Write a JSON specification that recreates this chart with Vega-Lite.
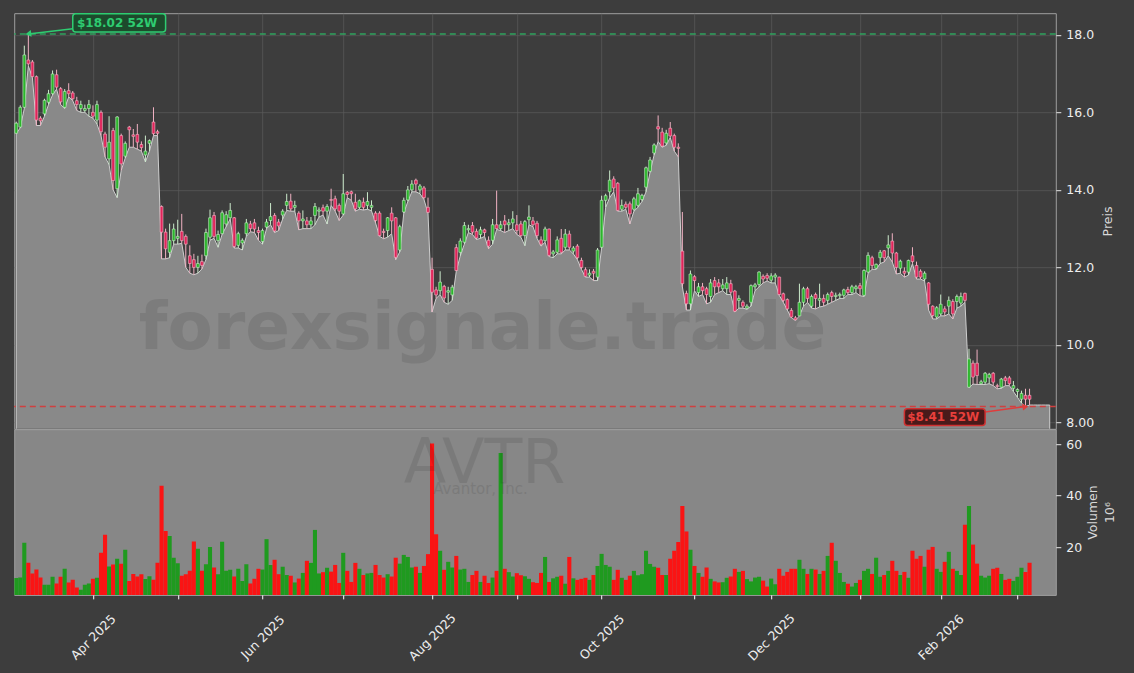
{
"$schema": "https://vega.github.io/schema/vega-lite/v6.json",
"background": "#3d3d3d",
"padding": {"left": 12.2, "top": 12.2, "right": 22, "bottom": 14},
"bounds": "flush",
"spacing": 0,
"config": {
  "font": "DejaVu Sans",
  "mark": {"invalid": "break-paths-show-domains"},
  "view": {"stroke": "#a0a0a0", "strokeWidth": 1},
  "axis": {"labelFont": "DejaVu Sans", "titleFont": "DejaVu Sans", "labelColor": "#eeeeee", "titleColor": "#d8d8d8", "tickColor": "#e8e8e8", "labelFontSize": 12.5, "titleFontSize": 12.5, "titleFontWeight": "normal", "domain": false, "gridColor": "#595959", "gridWidth": 0.8}
},
"data": {"values": [
{"date":"2025-03-05","open":15.46,"high":15.76,"low":15.45,"close":15.72,"volume":8.0},
{"date":"2025-03-06","open":15.62,"high":16.18,"low":15.6,"close":16.13,"volume":8.2},
{"date":"2025-03-07","open":16.13,"high":17.72,"low":16.1,"close":17.48,"volume":21.7},
{"date":"2025-03-10","open":17.35,"high":18.02,"low":17.2,"close":17.25,"volume":13.9},
{"date":"2025-03-11","open":17.3,"high":17.35,"low":16.9,"close":16.92,"volume":9.8},
{"date":"2025-03-12","open":16.92,"high":16.95,"low":15.66,"close":15.8,"volume":11.3},
{"date":"2025-03-13","open":15.85,"high":15.9,"low":15.66,"close":15.78,"volume":8.2},
{"date":"2025-03-14","open":15.96,"high":16.35,"low":15.9,"close":16.31,"volume":5.4},
{"date":"2025-03-17","open":16.26,"high":16.58,"low":16.2,"close":16.48,"volume":5.4},
{"date":"2025-03-18","open":16.48,"high":17.08,"low":16.45,"close":16.99,"volume":8.5},
{"date":"2025-03-19","open":16.97,"high":17.1,"low":16.6,"close":16.65,"volume":5.9},
{"date":"2025-03-20","open":16.61,"high":16.65,"low":16.2,"close":16.27,"volume":8.5},
{"date":"2025-03-21","open":16.13,"high":16.6,"low":16.1,"close":16.54,"volume":11.6},
{"date":"2025-03-24","open":16.56,"high":16.75,"low":16.4,"close":16.48,"volume":6.3},
{"date":"2025-03-25","open":16.5,"high":16.55,"low":16.3,"close":16.35,"volume":7.3},
{"date":"2025-03-26","open":16.3,"high":16.4,"low":16.05,"close":16.2,"volume":4.3},
{"date":"2025-03-27","open":16.1,"high":16.3,"low":16.0,"close":16.2,"volume":3.5},
{"date":"2025-03-28","open":16.05,"high":16.2,"low":16.0,"close":16.1,"volume":5.4},
{"date":"2025-03-31","open":16.1,"high":16.32,"low":15.9,"close":16.2,"volume":5.9},
{"date":"2025-04-01","open":16.0,"high":16.18,"low":15.85,"close":15.9,"volume":7.7},
{"date":"2025-04-02","open":15.8,"high":16.3,"low":15.7,"close":16.2,"volume":8.1},
{"date":"2025-04-03","open":16.0,"high":16.05,"low":15.4,"close":15.5,"volume":17.8},
{"date":"2025-04-04","open":15.44,"high":15.5,"low":14.85,"close":15.1,"volume":24.8},
{"date":"2025-04-07","open":14.8,"high":15.9,"low":14.65,"close":15.23,"volume":12.5},
{"date":"2025-04-08","open":15.53,"high":15.6,"low":14.0,"close":14.24,"volume":13.3},
{"date":"2025-04-09","open":14.03,"high":15.9,"low":13.8,"close":15.88,"volume":15.5},
{"date":"2025-04-10","open":15.4,"high":15.45,"low":14.5,"close":14.67,"volume":13.6},
{"date":"2025-04-11","open":14.87,"high":15.25,"low":14.82,"close":15.2,"volume":19.0},
{"date":"2025-04-14","open":15.62,"high":15.65,"low":15.1,"close":15.55,"volume":6.9},
{"date":"2025-04-15","open":15.42,"high":15.57,"low":15.1,"close":15.38,"volume":9.6},
{"date":"2025-04-16","open":15.43,"high":15.7,"low":15.05,"close":15.23,"volume":8.6},
{"date":"2025-04-17","open":15.17,"high":15.25,"low":15.0,"close":15.09,"volume":9.5},
{"date":"2025-04-21","open":14.9,"high":15.4,"low":14.72,"close":15.0,"volume":7.6},
{"date":"2025-04-22","open":15.2,"high":15.3,"low":15.0,"close":15.27,"volume":8.7},
{"date":"2025-04-23","open":15.75,"high":16.13,"low":15.4,"close":15.45,"volume":7.3},
{"date":"2025-04-24","open":15.5,"high":15.55,"low":15.4,"close":15.46,"volume":13.9},
{"date":"2025-04-25","open":13.57,"high":13.6,"low":12.22,"close":12.91,"volume":43.8},
{"date":"2025-04-28","open":12.91,"high":13.0,"low":12.22,"close":12.48,"volume":26.3},
{"date":"2025-04-29","open":12.39,"high":13.13,"low":12.25,"close":12.69,"volume":24.3},
{"date":"2025-04-30","open":12.69,"high":13.13,"low":12.6,"close":12.99,"volume":15.9},
{"date":"2025-05-01","open":12.75,"high":13.23,"low":12.6,"close":12.8,"volume":13.8},
{"date":"2025-05-02","open":12.93,"high":13.38,"low":12.62,"close":12.69,"volume":8.9},
{"date":"2025-05-05","open":12.8,"high":12.85,"low":12.0,"close":12.6,"volume":9.5},
{"date":"2025-05-06","open":12.3,"high":12.57,"low":11.85,"close":12.1,"volume":10.8},
{"date":"2025-05-07","open":12.2,"high":12.35,"low":11.81,"close":12.0,"volume":22.2},
{"date":"2025-05-08","open":12.0,"high":12.3,"low":11.85,"close":12.1,"volume":19.4},
{"date":"2025-05-09","open":12.15,"high":12.33,"low":11.96,"close":12.05,"volume":10.8},
{"date":"2025-05-12","open":12.3,"high":13.0,"low":12.2,"close":12.9,"volume":13.4},
{"date":"2025-05-13","open":12.78,"high":13.49,"low":12.7,"close":13.28,"volume":20.1},
{"date":"2025-05-14","open":13.34,"high":13.43,"low":12.75,"close":12.8,"volume":12.1},
{"date":"2025-05-15","open":12.69,"high":12.95,"low":12.52,"close":12.85,"volume":9.5},
{"date":"2025-05-16","open":12.87,"high":13.47,"low":12.85,"close":13.41,"volume":22.1},
{"date":"2025-05-19","open":13.12,"high":13.45,"low":13.05,"close":13.36,"volume":10.8},
{"date":"2025-05-20","open":13.28,"high":13.66,"low":13.25,"close":13.47,"volume":11.2},
{"date":"2025-05-21","open":13.28,"high":13.3,"low":12.5,"close":12.54,"volume":8.6},
{"date":"2025-05-22","open":12.57,"high":12.92,"low":12.5,"close":12.87,"volume":11.6},
{"date":"2025-05-23","open":12.63,"high":12.75,"low":12.45,"close":12.7,"volume":6.9},
{"date":"2025-05-27","open":12.87,"high":13.25,"low":12.8,"close":13.15,"volume":13.4},
{"date":"2025-05-28","open":13.12,"high":13.2,"low":12.92,"close":13.0,"volume":5.9},
{"date":"2025-05-29","open":13.15,"high":13.25,"low":12.9,"close":12.99,"volume":7.7},
{"date":"2025-05-30","open":12.95,"high":13.05,"low":12.7,"close":12.9,"volume":11.6},
{"date":"2025-06-02","open":12.67,"high":13.0,"low":12.6,"close":12.95,"volume":11.3},
{"date":"2025-06-03","open":13.04,"high":13.25,"low":13.0,"close":13.17,"volume":23.1},
{"date":"2025-06-04","open":13.21,"high":13.66,"low":13.1,"close":13.31,"volume":13.1},
{"date":"2025-06-05","open":13.34,"high":13.4,"low":12.9,"close":12.94,"volume":15.1},
{"date":"2025-06-06","open":13.17,"high":13.25,"low":12.95,"close":13.07,"volume":9.5},
{"date":"2025-06-09","open":13.35,"high":13.5,"low":13.25,"close":13.45,"volume":12.4},
{"date":"2025-06-10","open":13.6,"high":13.9,"low":13.47,"close":13.7,"volume":9.2},
{"date":"2025-06-11","open":13.71,"high":13.9,"low":13.45,"close":13.51,"volume":8.9},
{"date":"2025-06-12","open":13.55,"high":13.72,"low":13.45,"close":13.6,"volume":6.3},
{"date":"2025-06-13","open":13.4,"high":13.45,"low":12.97,"close":13.2,"volume":7.8},
{"date":"2025-06-16","open":13.2,"high":13.47,"low":13.0,"close":13.25,"volume":10.0},
{"date":"2025-06-17","open":13.2,"high":13.3,"low":13.0,"close":13.1,"volume":14.7},
{"date":"2025-06-18","open":13.1,"high":13.3,"low":13.0,"close":13.2,"volume":13.9},
{"date":"2025-06-20","open":13.34,"high":13.66,"low":13.1,"close":13.57,"volume":26.7},
{"date":"2025-06-23","open":13.45,"high":13.55,"low":13.3,"close":13.48,"volume":9.8},
{"date":"2025-06-24","open":13.54,"high":13.62,"low":13.35,"close":13.45,"volume":10.3},
{"date":"2025-06-25","open":13.45,"high":13.63,"low":13.12,"close":13.57,"volume":12.0},
{"date":"2025-06-26","open":13.75,"high":14.03,"low":13.6,"close":13.73,"volume":10.5},
{"date":"2025-06-27","open":13.77,"high":13.85,"low":13.45,"close":13.51,"volume":13.1},
{"date":"2025-06-30","open":13.6,"high":13.65,"low":13.21,"close":13.45,"volume":6.1},
{"date":"2025-07-01","open":13.38,"high":14.41,"low":13.35,"close":13.9,"volume":17.8},
{"date":"2025-07-02","open":13.94,"high":13.97,"low":13.8,"close":13.88,"volume":10.8},
{"date":"2025-07-03","open":13.95,"high":13.98,"low":13.73,"close":13.9,"volume":6.5},
{"date":"2025-07-07","open":13.68,"high":13.9,"low":13.45,"close":13.51,"volume":13.9},
{"date":"2025-07-08","open":13.55,"high":13.75,"low":13.5,"close":13.72,"volume":11.6},
{"date":"2025-07-09","open":13.68,"high":13.8,"low":13.48,"close":13.55,"volume":9.2},
{"date":"2025-07-10","open":13.6,"high":13.94,"low":13.5,"close":13.7,"volume":9.8},
{"date":"2025-07-11","open":13.55,"high":13.73,"low":13.46,"close":13.6,"volume":10.0},
{"date":"2025-07-14","open":13.4,"high":13.45,"low":13.15,"close":13.21,"volume":13.1},
{"date":"2025-07-15","open":13.4,"high":13.45,"low":12.8,"close":12.82,"volume":9.2},
{"date":"2025-07-16","open":12.93,"high":13.0,"low":12.74,"close":12.9,"volume":8.2},
{"date":"2025-07-17","open":12.95,"high":13.3,"low":12.78,"close":13.28,"volume":9.5},
{"date":"2025-07-18","open":13.4,"high":13.55,"low":12.87,"close":13.2,"volume":8.6},
{"date":"2025-07-21","open":13.28,"high":13.3,"low":12.2,"close":12.26,"volume":15.9},
{"date":"2025-07-22","open":12.45,"high":13.1,"low":12.4,"close":13.05,"volume":13.6},
{"date":"2025-07-23","open":13.43,"high":13.8,"low":13.4,"close":13.73,"volume":17.0},
{"date":"2025-07-24","open":13.74,"high":14.1,"low":13.7,"close":14.0,"volume":16.2},
{"date":"2025-07-25","open":14.0,"high":14.25,"low":13.95,"close":14.15,"volume":12.1},
{"date":"2025-07-28","open":14.25,"high":14.29,"low":13.95,"close":14.15,"volume":12.4},
{"date":"2025-07-29","open":14.0,"high":14.15,"low":13.9,"close":14.1,"volume":10.0},
{"date":"2025-07-30","open":14.05,"high":14.1,"low":13.75,"close":13.8,"volume":12.7},
{"date":"2025-07-31","open":13.55,"high":13.8,"low":13.4,"close":13.42,"volume":17.3},
{"date":"2025-08-01","open":11.95,"high":12.25,"low":10.85,"close":11.36,"volume":60.2},
{"date":"2025-08-04","open":11.42,"high":11.5,"low":11.2,"close":11.29,"volume":25.0},
{"date":"2025-08-05","open":11.4,"high":11.9,"low":11.3,"close":11.62,"volume":18.6},
{"date":"2025-08-06","open":11.51,"high":11.55,"low":11.1,"close":11.21,"volume":11.2},
{"date":"2025-08-07","open":11.36,"high":11.5,"low":11.05,"close":11.4,"volume":14.3},
{"date":"2025-08-08","open":11.29,"high":11.55,"low":11.15,"close":11.49,"volume":12.1},
{"date":"2025-08-11","open":12.51,"high":12.6,"low":11.9,"close":11.92,"volume":16.6},
{"date":"2025-08-12","open":12.39,"high":12.75,"low":12.3,"close":12.68,"volume":11.3},
{"date":"2025-08-13","open":12.65,"high":13.17,"low":12.6,"close":13.08,"volume":11.6},
{"date":"2025-08-14","open":12.97,"high":13.1,"low":12.9,"close":13.0,"volume":6.5},
{"date":"2025-08-15","open":13.08,"high":13.17,"low":12.85,"close":12.91,"volume":9.2},
{"date":"2025-08-18","open":12.93,"high":13.0,"low":12.72,"close":12.76,"volume":10.8},
{"date":"2025-08-19","open":12.85,"high":13.05,"low":12.75,"close":12.97,"volume":6.5},
{"date":"2025-08-20","open":12.97,"high":13.0,"low":12.8,"close":12.9,"volume":8.9},
{"date":"2025-08-21","open":12.7,"high":12.8,"low":12.48,"close":12.55,"volume":6.1},
{"date":"2025-08-22","open":12.7,"high":13.25,"low":12.6,"close":13.1,"volume":8.2},
{"date":"2025-08-25","open":13.1,"high":13.98,"low":12.98,"close":13.0,"volume":10.8},
{"date":"2025-08-26","open":13.0,"high":13.2,"low":12.95,"close":13.1,"volume":56.6},
{"date":"2025-08-27","open":13.2,"high":13.35,"low":12.9,"close":13.1,"volume":11.6},
{"date":"2025-08-28","open":13.1,"high":13.25,"low":12.95,"close":13.15,"volume":10.3},
{"date":"2025-08-29","open":13.15,"high":13.45,"low":13.0,"close":13.25,"volume":8.6},
{"date":"2025-09-02","open":13.1,"high":13.35,"low":12.85,"close":12.95,"volume":9.9},
{"date":"2025-09-03","open":13.12,"high":13.2,"low":12.78,"close":12.82,"volume":9.1},
{"date":"2025-09-04","open":12.82,"high":13.22,"low":12.56,"close":13.18,"volume":8.7},
{"date":"2025-09-05","open":13.23,"high":13.6,"low":13.1,"close":13.3,"volume":7.7},
{"date":"2025-09-08","open":13.2,"high":13.3,"low":13.05,"close":13.1,"volume":6.4},
{"date":"2025-09-09","open":13.14,"high":13.2,"low":12.75,"close":12.82,"volume":6.1},
{"date":"2025-09-10","open":12.71,"high":12.8,"low":12.55,"close":12.6,"volume":10.0},
{"date":"2025-09-11","open":12.69,"high":13.05,"low":12.65,"close":12.99,"volume":16.2},
{"date":"2025-09-12","open":12.99,"high":13.0,"low":12.28,"close":12.31,"volume":6.5},
{"date":"2025-09-15","open":12.35,"high":12.45,"low":12.25,"close":12.4,"volume":7.9},
{"date":"2025-09-16","open":12.39,"high":12.8,"low":12.35,"close":12.71,"volume":8.5},
{"date":"2025-09-17","open":12.75,"high":12.99,"low":12.35,"close":12.39,"volume":8.9},
{"date":"2025-09-18","open":12.52,"high":12.99,"low":12.45,"close":12.86,"volume":5.8},
{"date":"2025-09-19","open":12.86,"high":12.95,"low":12.45,"close":12.52,"volume":16.2},
{"date":"2025-09-22","open":12.42,"high":12.55,"low":12.35,"close":12.5,"volume":7.9},
{"date":"2025-09-23","open":12.55,"high":12.6,"low":12.2,"close":12.25,"volume":7.3},
{"date":"2025-09-24","open":12.18,"high":12.25,"low":11.95,"close":12.0,"volume":7.7},
{"date":"2025-09-25","open":11.94,"high":12.0,"low":11.75,"close":11.77,"volume":8.1},
{"date":"2025-09-26","open":11.8,"high":11.95,"low":11.75,"close":11.85,"volume":7.3},
{"date":"2025-09-29","open":11.9,"high":11.96,"low":11.66,"close":11.85,"volume":9.2},
{"date":"2025-09-30","open":11.75,"high":12.5,"low":11.66,"close":12.45,"volume":12.7},
{"date":"2025-10-01","open":12.52,"high":13.85,"low":12.5,"close":13.73,"volume":17.4},
{"date":"2025-10-02","open":13.73,"high":13.9,"low":13.55,"close":13.85,"volume":13.1},
{"date":"2025-10-03","open":13.95,"high":14.5,"low":13.8,"close":14.25,"volume":12.4},
{"date":"2025-10-06","open":14.28,"high":14.35,"low":13.95,"close":14.05,"volume":7.3},
{"date":"2025-10-07","open":14.17,"high":14.2,"low":13.45,"close":13.47,"volume":11.2},
{"date":"2025-10-08","open":13.5,"high":13.75,"low":13.45,"close":13.6,"volume":8.1},
{"date":"2025-10-09","open":13.63,"high":13.7,"low":13.5,"close":13.55,"volume":7.3},
{"date":"2025-10-10","open":13.64,"high":13.7,"low":13.12,"close":13.38,"volume":8.9},
{"date":"2025-10-13","open":13.5,"high":13.82,"low":13.45,"close":13.77,"volume":10.8},
{"date":"2025-10-14","open":13.6,"high":14.05,"low":13.55,"close":13.9,"volume":9.1},
{"date":"2025-10-15","open":13.75,"high":13.9,"low":13.7,"close":13.86,"volume":9.5},
{"date":"2025-10-16","open":14.07,"high":14.6,"low":13.95,"close":14.57,"volume":18.6},
{"date":"2025-10-17","open":14.48,"high":14.85,"low":14.45,"close":14.77,"volume":13.5},
{"date":"2025-10-20","open":14.95,"high":15.2,"low":14.9,"close":15.16,"volume":12.4},
{"date":"2025-10-21","open":15.63,"high":15.92,"low":15.25,"close":15.57,"volume":12.0},
{"date":"2025-10-22","open":15.49,"high":15.6,"low":15.1,"close":15.13,"volume":9.2},
{"date":"2025-10-23","open":15.21,"high":15.55,"low":15.15,"close":15.46,"volume":9.2},
{"date":"2025-10-24","open":15.59,"high":15.75,"low":15.35,"close":15.39,"volume":15.5},
{"date":"2025-10-27","open":15.4,"high":15.45,"low":15.0,"close":15.1,"volume":18.6},
{"date":"2025-10-28","open":15.1,"high":15.2,"low":14.85,"close":15.07,"volume":22.0},
{"date":"2025-10-29","open":12.42,"high":13.43,"low":11.5,"close":11.58,"volume":36.0},
{"date":"2025-10-30","open":11.33,"high":11.4,"low":10.9,"close":11.06,"volume":26.1},
{"date":"2025-10-31","open":11.06,"high":11.92,"low":10.9,"close":11.83,"volume":19.0},
{"date":"2025-11-03","open":11.76,"high":11.8,"low":11.4,"close":11.66,"volume":12.7},
{"date":"2025-11-04","open":11.35,"high":11.6,"low":11.25,"close":11.5,"volume":10.0},
{"date":"2025-11-05","open":11.5,"high":11.6,"low":11.3,"close":11.4,"volume":8.5},
{"date":"2025-11-06","open":11.45,"high":11.5,"low":11.06,"close":11.3,"volume":12.1},
{"date":"2025-11-07","open":11.25,"high":11.7,"low":11.1,"close":11.6,"volume":7.7},
{"date":"2025-11-10","open":11.66,"high":11.75,"low":11.3,"close":11.5,"volume":6.7},
{"date":"2025-11-11","open":11.6,"high":11.7,"low":11.35,"close":11.5,"volume":6.3},
{"date":"2025-11-12","open":11.45,"high":11.7,"low":11.4,"close":11.55,"volume":6.4},
{"date":"2025-11-13","open":11.45,"high":11.75,"low":11.3,"close":11.6,"volume":8.1},
{"date":"2025-11-14","open":11.58,"high":11.68,"low":11.3,"close":11.36,"volume":8.6},
{"date":"2025-11-17","open":11.39,"high":11.42,"low":10.85,"close":10.87,"volume":11.6},
{"date":"2025-11-18","open":11.15,"high":11.28,"low":10.95,"close":11.2,"volume":10.4},
{"date":"2025-11-19","open":11.1,"high":11.15,"low":10.95,"close":11.0,"volume":10.8},
{"date":"2025-11-20","open":10.95,"high":11.05,"low":10.92,"close":11.0,"volume":7.6},
{"date":"2025-11-21","open":11.1,"high":11.56,"low":11.0,"close":11.53,"volume":6.7},
{"date":"2025-11-24","open":11.5,"high":11.6,"low":11.4,"close":11.55,"volume":8.2},
{"date":"2025-11-25","open":11.56,"high":11.9,"low":11.5,"close":11.88,"volume":8.5},
{"date":"2025-11-26","open":11.77,"high":11.82,"low":11.6,"close":11.7,"volume":7.0},
{"date":"2025-11-28","open":11.79,"high":11.85,"low":11.65,"close":11.72,"volume":4.7},
{"date":"2025-12-01","open":11.67,"high":11.85,"low":11.6,"close":11.78,"volume":7.8},
{"date":"2025-12-02","open":11.75,"high":11.85,"low":11.6,"close":11.8,"volume":5.6},
{"date":"2025-12-03","open":11.75,"high":11.76,"low":11.28,"close":11.3,"volume":11.6},
{"date":"2025-12-04","open":11.32,"high":11.35,"low":11.1,"close":11.15,"volume":8.9},
{"date":"2025-12-05","open":11.17,"high":11.2,"low":10.9,"close":10.93,"volume":10.4},
{"date":"2025-12-08","open":10.89,"high":10.95,"low":10.7,"close":10.72,"volume":11.6},
{"date":"2025-12-09","open":10.7,"high":10.75,"low":10.63,"close":10.65,"volume":11.6},
{"date":"2025-12-10","open":10.75,"high":11.58,"low":10.75,"close":11.1,"volume":15.1},
{"date":"2025-12-11","open":11.1,"high":11.5,"low":11.0,"close":11.45,"volume":11.6},
{"date":"2025-12-12","open":11.45,"high":11.5,"low":11.1,"close":11.2,"volume":9.6},
{"date":"2025-12-15","open":11.0,"high":11.3,"low":10.95,"close":11.25,"volume":11.6},
{"date":"2025-12-16","open":11.3,"high":11.35,"low":10.93,"close":11.2,"volume":11.3},
{"date":"2025-12-17","open":11.15,"high":11.58,"low":10.98,"close":11.2,"volume":9.6},
{"date":"2025-12-18","open":11.2,"high":11.3,"low":11.0,"close":11.1,"volume":10.8},
{"date":"2025-12-19","open":11.15,"high":11.35,"low":11.05,"close":11.3,"volume":16.6},
{"date":"2025-12-22","open":11.35,"high":11.4,"low":11.1,"close":11.25,"volume":21.7},
{"date":"2025-12-23","open":11.25,"high":11.35,"low":11.15,"close":11.28,"volume":14.7},
{"date":"2025-12-24","open":11.27,"high":11.35,"low":11.2,"close":11.3,"volume":10.0},
{"date":"2025-12-26","open":11.28,"high":11.45,"low":11.2,"close":11.42,"volume":6.5},
{"date":"2025-12-29","open":11.43,"high":11.5,"low":11.3,"close":11.35,"volume":5.8},
{"date":"2025-12-30","open":11.35,"high":11.55,"low":11.3,"close":11.5,"volume":4.7},
{"date":"2025-12-31","open":11.45,"high":11.55,"low":11.35,"close":11.5,"volume":6.1},
{"date":"2026-01-02","open":11.53,"high":11.6,"low":11.27,"close":11.45,"volume":7.3},
{"date":"2026-01-05","open":11.28,"high":11.95,"low":11.25,"close":11.92,"volume":10.8},
{"date":"2026-01-06","open":11.88,"high":12.39,"low":11.85,"close":12.31,"volume":11.6},
{"date":"2026-01-07","open":12.25,"high":12.3,"low":11.95,"close":12.05,"volume":9.6},
{"date":"2026-01-08","open":11.98,"high":12.1,"low":11.95,"close":12.08,"volume":15.9},
{"date":"2026-01-09","open":12.25,"high":12.45,"low":12.1,"close":12.39,"volume":8.5},
{"date":"2026-01-12","open":12.43,"high":12.45,"low":12.14,"close":12.25,"volume":9.2},
{"date":"2026-01-13","open":12.5,"high":12.83,"low":12.3,"close":12.58,"volume":10.8},
{"date":"2026-01-14","open":12.68,"high":12.88,"low":12.14,"close":12.37,"volume":14.7},
{"date":"2026-01-15","open":12.37,"high":12.4,"low":11.83,"close":12.0,"volume":10.8},
{"date":"2026-01-16","open":11.98,"high":12.2,"low":11.85,"close":12.16,"volume":9.2},
{"date":"2026-01-20","open":11.9,"high":12.0,"low":11.75,"close":11.85,"volume":10.4},
{"date":"2026-01-21","open":11.88,"high":12.2,"low":11.8,"close":12.18,"volume":8.1},
{"date":"2026-01-22","open":12.3,"high":12.52,"low":12.1,"close":12.15,"volume":18.6},
{"date":"2026-01-23","open":12.05,"high":12.15,"low":11.7,"close":11.75,"volume":15.5},
{"date":"2026-01-26","open":11.9,"high":11.95,"low":11.7,"close":11.75,"volume":16.6},
{"date":"2026-01-27","open":11.7,"high":11.9,"low":11.65,"close":11.85,"volume":12.4},
{"date":"2026-01-28","open":11.6,"high":11.62,"low":10.9,"close":11.05,"volume":19.0},
{"date":"2026-01-29","open":11.0,"high":11.02,"low":10.67,"close":10.76,"volume":20.1},
{"date":"2026-01-30","open":10.72,"high":11.0,"low":10.67,"close":10.96,"volume":11.6},
{"date":"2026-02-02","open":10.8,"high":11.3,"low":10.75,"close":11.05,"volume":10.4},
{"date":"2026-02-03","open":10.93,"high":11.0,"low":10.75,"close":10.85,"volume":14.3},
{"date":"2026-02-04","open":11.0,"high":11.25,"low":10.8,"close":11.15,"volume":18.2},
{"date":"2026-02-05","open":11.12,"high":11.18,"low":10.67,"close":10.8,"volume":11.6},
{"date":"2026-02-06","open":11.12,"high":11.3,"low":10.95,"close":11.25,"volume":10.8},
{"date":"2026-02-09","open":11.08,"high":11.35,"low":11.0,"close":11.25,"volume":9.2},
{"date":"2026-02-10","open":11.33,"high":11.35,"low":11.1,"close":11.15,"volume":28.7},
{"date":"2026-02-11","open":8.91,"high":9.9,"low":8.9,"close":9.64,"volume":36.0},
{"date":"2026-02-12","open":9.53,"high":9.6,"low":8.99,"close":9.17,"volume":21.0},
{"date":"2026-02-13","open":9.53,"high":9.88,"low":8.98,"close":9.21,"volume":13.6},
{"date":"2026-02-17","open":9.0,"high":9.1,"low":8.98,"close":9.05,"volume":8.9},
{"date":"2026-02-18","open":9.04,"high":9.3,"low":8.98,"close":9.27,"volume":8.2},
{"date":"2026-02-19","open":9.15,"high":9.28,"low":9.0,"close":9.24,"volume":8.9},
{"date":"2026-02-20","open":9.27,"high":9.3,"low":8.95,"close":9.04,"volume":11.6},
{"date":"2026-02-23","open":8.95,"high":9.0,"low":8.87,"close":8.93,"volume":12.0},
{"date":"2026-02-24","open":8.91,"high":9.15,"low":8.88,"close":9.12,"volume":9.6},
{"date":"2026-02-25","open":9.15,"high":9.2,"low":8.95,"close":9.08,"volume":7.3},
{"date":"2026-02-26","open":9.15,"high":9.2,"low":8.95,"close":9.0,"volume":7.7},
{"date":"2026-02-27","open":8.88,"high":9.07,"low":8.8,"close":8.95,"volume":6.9},
{"date":"2026-03-02","open":8.8,"high":8.88,"low":8.65,"close":8.85,"volume":8.5},
{"date":"2026-03-03","open":8.6,"high":8.82,"low":8.5,"close":8.75,"volume":12.0},
{"date":"2026-03-04","open":8.7,"high":8.87,"low":8.41,"close":8.6,"volume":10.4},
{"date":"2026-03-05","open":8.7,"high":8.87,"low":8.45,"close":8.6,"volume":13.9},
{"date":"2026-03-06","low":8.45},
{"date":"2026-03-09","low":8.45},
{"date":"2026-03-10","low":8.45},
{"date":"2026-03-11","low":8.45},
{"date":"2026-03-12","low":8.45},
{"date":"2026-03-13"}
]},
"vconcat": [
{
  "width": 1041.6,
  "height": 415.6,
  "layer": [
    {
      "mark": {"type": "area", "fill": "#898989", "stroke": "#cfcfcf", "strokeWidth": 1, "clip": true},
      "encoding": {
        "x": {"field": "date", "type": "ordinal", "scale": {"type": "point", "padding": 0.5},
              "axis": {"values": ["2025-04-01","2025-05-01","2025-06-02","2025-07-01","2025-08-01","2025-09-02","2025-10-01","2025-11-03","2025-12-01","2026-01-02","2026-02-02","2026-03-02"], "grid": true, "labels": false, "ticks": false, "domain": false, "title": null}},
        "y": {"field": "low", "type": "quantitative", "scale": {"domain": [7.837, 18.557], "nice": false, "zero": false},
              "axis": {"orient": "right", "values": [8,10,12,14,16,18], "labelExpr": "datum.value == 8 ? '8.00' : format(datum.value, '.1f')", "tickSize": 5, "labelPadding": 5, "grid": true, "title": "Preis", "titleAngle": 270, "titleBaseline": "top", "titlePadding": 8}}
      }
    },
    {
      "data": {"values": [{}]},
      "mark": {"type": "text", "text": "forexsignale.trade", "fontSize": 66, "fontWeight": "bold", "color": "#000000", "opacity": 0.09, "align": "center", "baseline": "alphabetic", "dx": 2},
      "encoding": {
        "x": {"datum": "2025-08-19", "type": "ordinal",
              "axis": {"values": ["2025-04-01","2025-05-01","2025-06-02","2025-07-01","2025-08-01","2025-09-02","2025-10-01","2025-11-03","2025-12-01","2026-01-02","2026-02-02","2026-03-02"], "grid": true, "labels": false, "ticks": false, "domain": false, "title": null}},
        "y": {"datum": 9.89, "type": "quantitative",
              "axis": {"orient": "right", "values": [8,10,12,14,16,18], "labelExpr": "datum.value == 8 ? '8.00' : format(datum.value, '.1f')", "tickSize": 5, "labelPadding": 5, "grid": true, "title": "Preis", "titleAngle": 270, "titleBaseline": "top", "titlePadding": 8}}
      }
    },
    {
      "transform": [{"filter": "isValid(datum.high)"}],
      "mark": {"type": "rule", "strokeWidth": 1},
      "encoding": {
        "x": {"field": "date", "type": "ordinal",
              "axis": {"values": ["2025-04-01","2025-05-01","2025-06-02","2025-07-01","2025-08-01","2025-09-02","2025-10-01","2025-11-03","2025-12-01","2026-01-02","2026-02-02","2026-03-02"], "grid": true, "labels": false, "ticks": false, "domain": false, "title": null}},
        "y": {"field": "low", "type": "quantitative",
              "axis": {"orient": "right", "values": [8,10,12,14,16,18], "labelExpr": "datum.value == 8 ? '8.00' : format(datum.value, '.1f')", "tickSize": 5, "labelPadding": 5, "grid": true, "title": "Preis", "titleAngle": 270, "titleBaseline": "top", "titlePadding": 8}},
        "y2": {"field": "high"},
        "color": {"condition": {"test": "datum.close >= datum.open", "value": "#cdeccd"}, "value": "#f2b3c4"}
      }
    },
    {
      "transform": [{"filter": "isValid(datum.open)"}],
      "mark": {"type": "bar", "size": 2.8, "strokeWidth": 0.6},
      "encoding": {
        "x": {"field": "date", "type": "ordinal",
              "axis": {"values": ["2025-04-01","2025-05-01","2025-06-02","2025-07-01","2025-08-01","2025-09-02","2025-10-01","2025-11-03","2025-12-01","2026-01-02","2026-02-02","2026-03-02"], "grid": true, "labels": false, "ticks": false, "domain": false, "title": null}},
        "y": {"field": "open", "type": "quantitative",
              "axis": {"orient": "right", "values": [8,10,12,14,16,18], "labelExpr": "datum.value == 8 ? '8.00' : format(datum.value, '.1f')", "tickSize": 5, "labelPadding": 5, "grid": true, "title": "Preis", "titleAngle": 270, "titleBaseline": "top", "titlePadding": 8}},
        "y2": {"field": "close"},
        "fill": {"condition": {"test": "datum.close >= datum.open", "value": "#2bb52b"}, "value": "#e0245a"},
        "stroke": {"condition": {"test": "datum.close >= datum.open", "value": "#c9efc9"}, "value": "#f5b8c8"}
      }
    },
    {
      "data": {"values": [{"v": 18.02, "kind": "hi"}, {"v": 8.41, "kind": "lo"}]},
      "mark": {"type": "rule", "strokeWidth": 1.5, "strokeDash": [6, 4]},
      "encoding": {
        "y": {"field": "v", "type": "quantitative",
              "axis": {"orient": "right", "values": [8,10,12,14,16,18], "labelExpr": "datum.value == 8 ? '8.00' : format(datum.value, '.1f')", "tickSize": 5, "labelPadding": 5, "grid": true, "title": "Preis", "titleAngle": 270, "titleBaseline": "top", "titlePadding": 8}},
        "color": {"condition": {"test": "datum.kind == 'hi'", "value": "#2fa35e"}, "value": "#d04040"}
      }
    },
    {
      "data": {"values": [{}]},
      "mark": {"type": "rule", "stroke": "#2ecc71", "strokeWidth": 1.5},
      "encoding": {
        "x": {"datum": "2025-03-10", "type": "ordinal",
              "axis": {"values": ["2025-04-01","2025-05-01","2025-06-02","2025-07-01","2025-08-01","2025-09-02","2025-10-01","2025-11-03","2025-12-01","2026-01-02","2026-02-02","2026-03-02"], "grid": true, "labels": false, "ticks": false, "domain": false, "title": null}},
        "x2": {"datum": "2025-03-25"},
        "y": {"datum": 18.02, "type": "quantitative",
              "axis": {"orient": "right", "values": [8,10,12,14,16,18], "labelExpr": "datum.value == 8 ? '8.00' : format(datum.value, '.1f')", "tickSize": 5, "labelPadding": 5, "grid": true, "title": "Preis", "titleAngle": 270, "titleBaseline": "top", "titlePadding": 8}},
        "y2": {"datum": 18.155}
      }
    },
    {
      "data": {"values": [{}]},
      "mark": {"type": "point", "shape": "triangle-left", "size": 45, "filled": true, "color": "#2ecc71", "opacity": 1, "angle": -7.5, "dx": 3},
      "encoding": {
        "x": {"datum": "2025-03-10", "type": "ordinal",
              "axis": {"values": ["2025-04-01","2025-05-01","2025-06-02","2025-07-01","2025-08-01","2025-09-02","2025-10-01","2025-11-03","2025-12-01","2026-01-02","2026-02-02","2026-03-02"], "grid": true, "labels": false, "ticks": false, "domain": false, "title": null}},
        "y": {"datum": 18.025, "type": "quantitative",
              "axis": {"orient": "right", "values": [8,10,12,14,16,18], "labelExpr": "datum.value == 8 ? '8.00' : format(datum.value, '.1f')", "tickSize": 5, "labelPadding": 5, "grid": true, "title": "Preis", "titleAngle": 270, "titleBaseline": "top", "titlePadding": 8}}
      }
    },
    {
      "data": {"values": [{}]},
      "mark": {"type": "rect", "fill": "#1d4a2c", "stroke": "#2ecc71", "strokeWidth": 1.5, "cornerRadius": 3},
      "encoding": {
        "x": {"datum": "2025-03-25", "type": "ordinal",
              "axis": {"values": ["2025-04-01","2025-05-01","2025-06-02","2025-07-01","2025-08-01","2025-09-02","2025-10-01","2025-11-03","2025-12-01","2026-01-02","2026-02-02","2026-03-02"], "grid": true, "labels": false, "ticks": false, "domain": false, "title": null}},
        "x2": {"datum": "2025-04-28"},
        "y": {"datum": 18.54, "type": "quantitative",
              "axis": {"orient": "right", "values": [8,10,12,14,16,18], "labelExpr": "datum.value == 8 ? '8.00' : format(datum.value, '.1f')", "tickSize": 5, "labelPadding": 5, "grid": true, "title": "Preis", "titleAngle": 270, "titleBaseline": "top", "titlePadding": 8}},
        "y2": {"datum": 18.07}
      }
    },
    {
      "data": {"values": [{}]},
      "mark": {"type": "text", "text": "$18.02 52W", "fontSize": 12, "fontWeight": "bold", "color": "#2ecc71", "align": "center", "baseline": "middle"},
      "encoding": {
        "x": {"datum": "2025-04-09", "type": "ordinal",
              "axis": {"values": ["2025-04-01","2025-05-01","2025-06-02","2025-07-01","2025-08-01","2025-09-02","2025-10-01","2025-11-03","2025-12-01","2026-01-02","2026-02-02","2026-03-02"], "grid": true, "labels": false, "ticks": false, "domain": false, "title": null}},
        "y": {"datum": 18.30, "type": "quantitative",
              "axis": {"orient": "right", "values": [8,10,12,14,16,18], "labelExpr": "datum.value == 8 ? '8.00' : format(datum.value, '.1f')", "tickSize": 5, "labelPadding": 5, "grid": true, "title": "Preis", "titleAngle": 270, "titleBaseline": "top", "titlePadding": 8}}
      }
    },
    {
      "data": {"values": [{}]},
      "mark": {"type": "rule", "stroke": "#e03c3c", "strokeWidth": 1.5},
      "encoding": {
        "x": {"datum": "2026-02-18", "type": "ordinal",
              "axis": {"values": ["2025-04-01","2025-05-01","2025-06-02","2025-07-01","2025-08-01","2025-09-02","2025-10-01","2025-11-03","2025-12-01","2026-01-02","2026-02-02","2026-03-02"], "grid": true, "labels": false, "ticks": false, "domain": false, "title": null}},
        "x2": {"datum": "2026-03-04"},
        "y": {"datum": 8.27, "type": "quantitative",
              "axis": {"orient": "right", "values": [8,10,12,14,16,18], "labelExpr": "datum.value == 8 ? '8.00' : format(datum.value, '.1f')", "tickSize": 5, "labelPadding": 5, "grid": true, "title": "Preis", "titleAngle": 270, "titleBaseline": "top", "titlePadding": 8}},
        "y2": {"datum": 8.41}
      }
    },
    {
      "data": {"values": [{}]},
      "mark": {"type": "point", "shape": "triangle-right", "size": 45, "filled": true, "color": "#e03c3c", "opacity": 1, "angle": -7.8, "dx": -3},
      "encoding": {
        "x": {"datum": "2026-03-04", "type": "ordinal",
              "axis": {"values": ["2025-04-01","2025-05-01","2025-06-02","2025-07-01","2025-08-01","2025-09-02","2025-10-01","2025-11-03","2025-12-01","2026-01-02","2026-02-02","2026-03-02"], "grid": true, "labels": false, "ticks": false, "domain": false, "title": null}},
        "y": {"datum": 8.405, "type": "quantitative",
              "axis": {"orient": "right", "values": [8,10,12,14,16,18], "labelExpr": "datum.value == 8 ? '8.00' : format(datum.value, '.1f')", "tickSize": 5, "labelPadding": 5, "grid": true, "title": "Preis", "titleAngle": 270, "titleBaseline": "top", "titlePadding": 8}}
      }
    },
    {
      "data": {"values": [{}]},
      "mark": {"type": "rect", "fill": "#4a1a1a", "stroke": "#d03030", "strokeWidth": 1.5, "cornerRadius": 3},
      "encoding": {
        "x": {"datum": "2026-01-20", "type": "ordinal",
              "axis": {"values": ["2025-04-01","2025-05-01","2025-06-02","2025-07-01","2025-08-01","2025-09-02","2025-10-01","2025-11-03","2025-12-01","2026-01-02","2026-02-02","2026-03-02"], "grid": true, "labels": false, "ticks": false, "domain": false, "title": null}},
        "x2": {"datum": "2026-02-18"},
        "y": {"datum": 8.353, "type": "quantitative",
              "axis": {"orient": "right", "values": [8,10,12,14,16,18], "labelExpr": "datum.value == 8 ? '8.00' : format(datum.value, '.1f')", "tickSize": 5, "labelPadding": 5, "grid": true, "title": "Preis", "titleAngle": 270, "titleBaseline": "top", "titlePadding": 8}},
        "y2": {"datum": 7.92}
      }
    },
    {
      "data": {"values": [{}]},
      "mark": {"type": "text", "text": "$8.41 52W", "fontSize": 12, "fontWeight": "bold", "color": "#e8403c", "align": "center", "baseline": "middle", "dx": -1.5},
      "encoding": {
        "x": {"datum": "2026-02-03", "type": "ordinal",
              "axis": {"values": ["2025-04-01","2025-05-01","2025-06-02","2025-07-01","2025-08-01","2025-09-02","2025-10-01","2025-11-03","2025-12-01","2026-01-02","2026-02-02","2026-03-02"], "grid": true, "labels": false, "ticks": false, "domain": false, "title": null}},
        "y": {"datum": 8.137, "type": "quantitative",
              "axis": {"orient": "right", "values": [8,10,12,14,16,18], "labelExpr": "datum.value == 8 ? '8.00' : format(datum.value, '.1f')", "tickSize": 5, "labelPadding": 5, "grid": true, "title": "Preis", "titleAngle": 270, "titleBaseline": "top", "titlePadding": 8}}
      }
    }
  ]
},
{
  "width": 1041.6,
  "height": 165.7,
  "view": {"fill": "#878787", "stroke": "#a0a0a0"},
  "layer": [
    {
      "mark": {"type": "bar", "size": 4.1, "clip": true},
      "encoding": {
        "x": {"field": "date", "type": "ordinal", "scale": {"type": "point", "padding": 0.5},
              "axis": {"values": ["2025-04-01","2025-05-01","2025-06-02","2025-07-01","2025-08-01","2025-09-02","2025-10-01","2025-11-03","2025-12-01","2026-01-02","2026-02-02","2026-03-02"],
                       "labelExpr": "indexof(['2025-04-01','2025-06-02','2025-08-01','2025-10-01','2025-12-01','2026-02-02'], datum.value) >= 0 ? utcFormat(toDate(datum.value), '%b %Y') : ''",
                       "grid": false, "ticks": true, "tickSize": 4, "tickColor": "#ffffff", "domain": false, "title": null,
                       "labelAngle": -45, "labelAlign": "center", "labelBaseline": "middle", "labelPadding": 38, "labelOverlap": false, "labelBound": false, "labelFlush": false}},
        "y": {"field": "volume", "type": "quantitative", "scale": {"domain": [1.47, 65.8], "nice": false, "zero": false},
              "axis": {"orient": "right", "values": [20, 40, 60], "tickSize": 5, "labelPadding": 5, "grid": false, "title": ["Volumen", "10⁶"], "titleAngle": 270, "titleBaseline": "top", "titlePadding": -12, "titleLineHeight": 17}},
        "color": {"condition": {"test": "datum.close >= datum.open", "value": "#1f9a1f"}, "value": "#fa1414"}
      }
    },
    {
      "data": {"values": [{"t": "AVTR", "v": 45.1, "d": "2025-08-20", "s": "big"}, {"t": "Avantor, Inc.", "v": 40.6, "d": "2025-08-19", "s": "small"}]},
      "mark": {"type": "text", "color": "#000000", "opacity": 0.09, "align": "center", "baseline": "alphabetic"},
      "encoding": {
        "x": {"field": "d", "type": "ordinal",
              "axis": {"values": ["2025-04-01","2025-05-01","2025-06-02","2025-07-01","2025-08-01","2025-09-02","2025-10-01","2025-11-03","2025-12-01","2026-01-02","2026-02-02","2026-03-02"],
                       "labelExpr": "indexof(['2025-04-01','2025-06-02','2025-08-01','2025-10-01','2025-12-01','2026-02-02'], datum.value) >= 0 ? utcFormat(toDate(datum.value), '%b %Y') : ''",
                       "grid": false, "ticks": true, "tickSize": 4, "tickColor": "#ffffff", "domain": false, "title": null,
                       "labelAngle": -45, "labelAlign": "center", "labelBaseline": "middle", "labelPadding": 38, "labelOverlap": false, "labelBound": false, "labelFlush": false}},
        "y": {"field": "v", "type": "quantitative",
              "axis": {"orient": "right", "values": [20, 40, 60], "tickSize": 5, "labelPadding": 5, "grid": false, "title": ["Volumen", "10⁶"], "titleAngle": 270, "titleBaseline": "top", "titlePadding": -12, "titleLineHeight": 17}},
        "text": {"field": "t"},
        "size": {"field": "s", "type": "nominal", "scale": {"domain": ["big", "small"], "range": [62, 15]}, "legend": null},
        "fontWeight": {"field": "s", "type": "nominal", "scale": {"domain": ["big", "small"], "range": ["bold", "normal"]}, "legend": null}
      }
    }
  ]
}
]
}
